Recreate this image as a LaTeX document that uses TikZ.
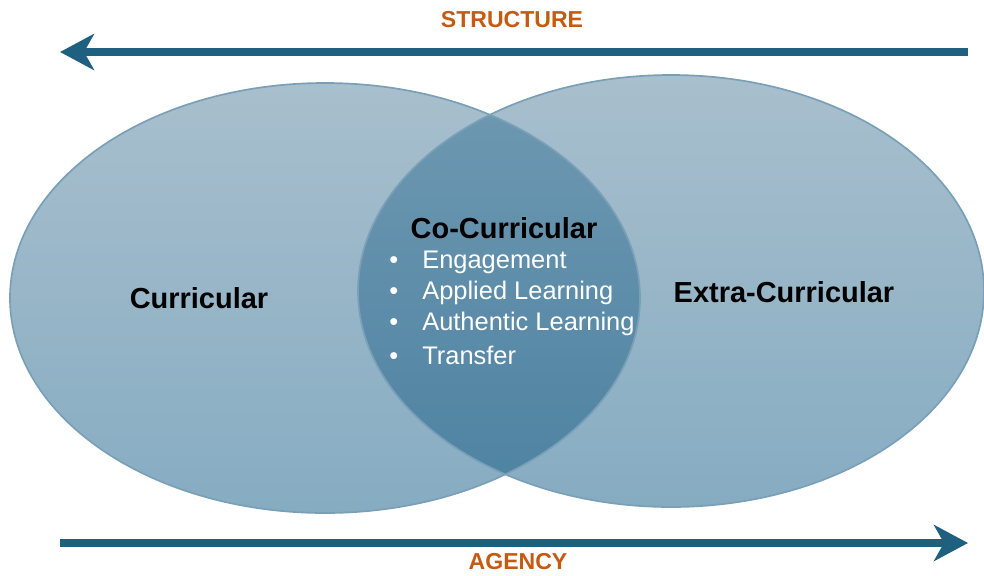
\documentclass[tikz,border=0pt]{standalone}
\usepackage{fontspec}
\setmainfont{Liberation Sans}
\usetikzlibrary{arrows.meta, positioning}
\definecolor{arrowcolor}{RGB}{31,95,128}
\definecolor{axiscolor}{RGB}{197,90,17}
\definecolor{settop}{RGB}{168,191,205}
\definecolor{setbot}{RGB}{134,172,194}
\definecolor{lenstop}{RGB}{112,153,178}
\definecolor{lensbot}{RGB}{76,130,161}
\definecolor{setedge}{RGB}{122,160,184}

\begin{document}
\begin{tikzpicture}[
    x=0.025cm, y=-0.025cm,
    setfill/.style={top color=settop, bottom color=setbot},
    lensfill/.style={top color=lenstop, bottom color=lensbot},
    setline/.style={draw=setedge, line width=1.2pt},
    flow/.style={-{Stealth[length=0.85cm, width=0.9cm, inset=0.25cm]}, line width=0.2cm, arrowcolor},
    axis/.style={font=\fontsize{16.4}{19}\selectfont\bfseries, text=axiscolor},
    setname/.style={font=\fontsize{20.6}{24}\selectfont\bfseries, text=black},
    item/.style={font=\fontsize{18.1}{22}\selectfont, text=white, anchor=west, inner sep=0pt}
]
    \useasboundingbox (0,0) rectangle (984,575);

    % Sets
    \path[setfill] (325,298) ellipse [x radius=315, y radius=215];
    \path[setfill] (671,291) ellipse [x radius=313, y radius=216];
    \begin{scope}
        \clip (325,298) ellipse [x radius=315, y radius=215];
        \path[lensfill] (671,291) ellipse [x radius=313, y radius=216];
    \end{scope}
    \draw[setline] (325,298) ellipse [x radius=315, y radius=215];
    \draw[setline] (671,291) ellipse [x radius=313, y radius=216];

    % Labels
    \node[setname] (curr) at (199,298) {Curricular};
    \node[setname] (extra) at (784,292) {Extra-Curricular};
    \node[setname] (co) at (504,228) {Co-Curricular};
    \foreach \txt [count=\i] in {Engagement, Applied Learning, Authentic Learning, Transfer} {
        \node[item] (item\i) at (389,262+31*\i-31) {\makebox[0.825cm][l]{\textbullet}\txt};
    }

    % Axes
    \coordinate (sright) at (968,52);
    \coordinate (sleft) at (60,52);
    \coordinate (aleft) at (60,543);
    \coordinate (aright) at (968,543);
    \draw[flow] (sright) -- (sleft);
    \draw[flow] (aleft) -- (aright);
    \node[axis] (structure) at (512,20) {STRUCTURE};
    \node[axis] (agency) at (518,562) {AGENCY};
\end{tikzpicture}
\end{document}
